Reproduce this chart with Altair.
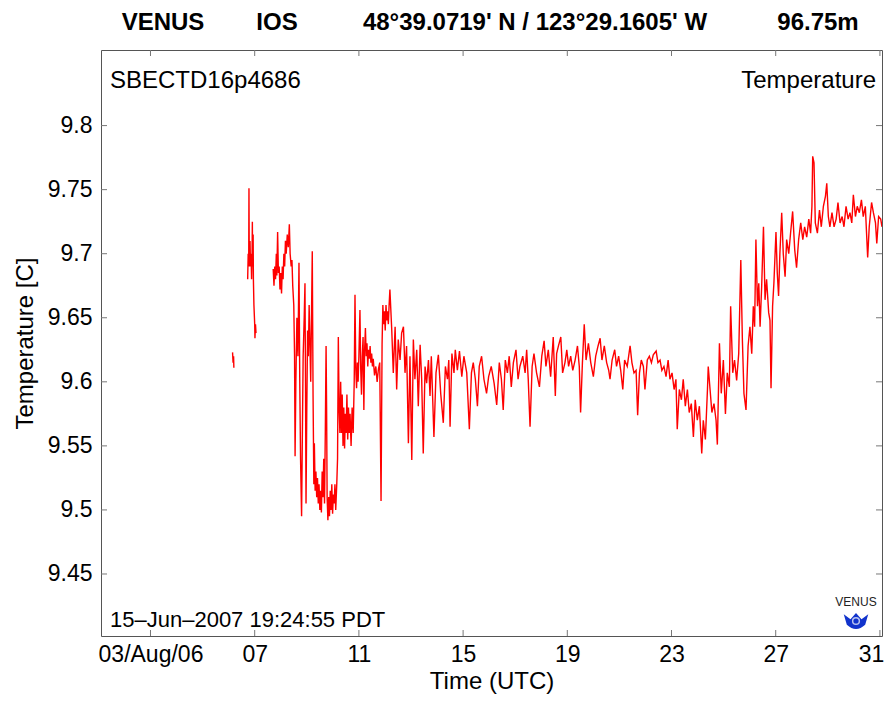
import altair as alt
import pandas as pd

# ---------------- data (day of August 2006, UTC ; temperature in C) ----------------
seg_a_day = [6.15, 6.17, 6.19, 6.20]
seg_a_temp = [9.623, 9.615, 9.620, 9.611]

seg_b_day = [6.73, 6.75, 6.77, 6.78, 6.79, 6.80, 6.82, 6.84, 6.86, 6.88, 6.90, 6.91,
             6.92, 6.94, 6.95, 6.97, 6.99, 7.00, 7.01, 7.03, 7.05]
seg_b_temp = [9.680, 9.700, 9.690, 9.751, 9.700, 9.690, 9.710, 9.690, 9.700, 9.680, 9.700, 9.725,
              9.690, 9.715, 9.680, 9.660, 9.650, 9.645, 9.634, 9.645, 9.638]

seg_c_day = [
    7.71, 7.74, 7.77, 7.80, 7.83, 7.85, 7.88, 7.91, 7.94, 7.97, 8.00, 8.03, 8.06, 8.09, 8.12, 8.15,
    8.18, 8.21, 8.25, 8.29, 8.33, 8.36, 8.40, 8.43, 8.46, 8.50, 8.53, 8.55, 8.58, 8.62, 8.66, 8.70,
    8.73, 8.76, 8.80, 8.83, 8.86, 8.90, 8.93, 8.95, 8.97, 9.00, 9.03, 9.06, 9.09, 9.12, 9.15, 9.18,
    9.21, 9.24, 9.27, 9.29, 9.32, 9.35, 9.38, 9.41, 9.44, 9.47, 9.50, 9.53, 9.56, 9.59, 9.62, 9.65,
    9.68, 9.71, 9.74, 9.76, 9.78, 9.81, 9.84, 9.87, 9.90, 9.93, 9.96, 9.99, 10.02, 10.05, 10.08,
    10.11, 10.15, 10.18, 10.21, 10.24, 10.27, 10.30, 10.33, 10.36, 10.39, 10.42, 10.45, 10.48,
    10.51, 10.54, 10.57, 10.60, 10.63, 10.66, 10.70, 10.74, 10.78, 10.82, 10.85, 10.88, 10.91,
    10.94, 10.97, 11.00, 11.04, 11.07, 11.10, 11.13, 11.16, 11.19, 11.22, 11.25, 11.28, 11.31,
    11.34, 11.37, 11.40, 11.43, 11.46, 11.49, 11.52, 11.55, 11.60, 11.65, 11.70, 11.75, 11.80,
    11.85, 11.89, 11.92, 11.95, 11.98, 12.01, 12.04, 12.07, 12.10, 12.13, 12.16,
    12.19, 12.26, 12.32, 12.39, 12.45, 12.51, 12.58, 12.64, 12.71, 12.77, 12.83, 12.90, 12.96,
    13.03, 13.09, 13.15, 13.22, 13.28, 13.35, 13.41, 13.47, 13.54, 13.60, 13.67, 13.73, 13.78,
    13.88, 13.96, 14.05, 14.14, 14.24, 14.32, 14.40, 14.45, 14.50, 14.57, 14.65, 14.70, 14.78,
    14.86, 14.95, 15.03, 15.14, 15.24, 15.32, 15.39, 15.47, 15.55, 15.62, 15.71, 15.80, 15.90,
    15.98, 16.08, 16.19, 16.29, 16.39, 16.47, 16.54, 16.62, 16.70, 16.77, 16.85, 16.93, 17.03,
    17.11, 17.18, 17.29, 17.38, 17.44, 17.50, 17.57, 17.65, 17.72, 17.82, 17.93, 18.02, 18.11,
    18.18, 18.27, 18.36, 18.46, 18.54, 18.59,
    18.66, 18.75, 18.82, 18.91, 18.98, 19.05, 19.13, 19.21, 19.30, 19.39, 19.46, 19.51, 19.58,
    19.65, 19.72, 19.81, 19.90, 20.00, 20.09, 20.18, 20.26, 20.33, 20.42, 20.51, 20.59, 20.64,
    20.72, 20.82, 20.89, 20.97, 21.05, 21.13, 21.20, 21.30, 21.41, 21.48, 21.56, 21.64, 21.70,
    21.77, 21.84, 21.92, 21.98, 22.07, 22.15, 22.23, 22.30, 22.41, 22.48, 22.56, 22.63, 22.71,
    22.79, 22.87, 22.94, 23.02, 23.10, 23.17, 23.22, 23.30, 23.38, 23.45, 23.53, 23.61, 23.68,
    23.76, 23.84, 23.91, 23.99, 24.07, 24.16, 24.22, 24.30, 24.38, 24.41, 24.48, 24.55, 24.63,
    24.71, 24.76, 24.84, 24.91, 24.99, 25.07, 25.14, 25.22, 25.27, 25.35, 25.42, 25.50, 25.58,
    25.66, 25.72, 25.78, 25.86, 25.94, 26.01, 26.08, 26.14, 26.19, 26.24, 26.30, 26.35, 26.40,
    26.46, 26.53, 26.59, 26.65, 26.73, 26.78, 26.82, 26.88, 26.93, 27.01, 27.06, 27.11, 27.16,
    27.23, 27.29, 27.36, 27.42, 27.50, 27.57, 27.65, 27.73, 27.80, 27.88, 27.96, 28.04, 28.11,
    28.19, 28.27, 28.34, 28.39, 28.42, 28.47, 28.52, 28.60, 28.68, 28.75, 28.83, 28.91, 28.96,
    29.02, 29.08, 29.16, 29.24, 29.32, 29.39, 29.47, 29.55, 29.62, 29.70, 29.78, 29.85, 29.92,
    29.98, 30.06, 30.13, 30.21, 30.29, 30.36, 30.44, 30.53, 30.59, 30.68, 30.75, 30.83, 30.88,
    30.95, 31.03, 31.08]

seg_c_temp = [
    9.688, 9.675, 9.690, 9.680, 9.700, 9.683, 9.717, 9.685, 9.690, 9.672, 9.685, 9.669, 9.690, 9.680, 9.700, 9.690,
    9.710, 9.700, 9.715, 9.705, 9.723, 9.700, 9.690, 9.695, 9.675, 9.660, 9.620, 9.542, 9.600, 9.650, 9.620, 9.693,
    9.600, 9.540, 9.495, 9.560, 9.620, 9.650, 9.677, 9.600, 9.505, 9.580, 9.640, 9.620, 9.660, 9.630, 9.600, 9.650,
    9.702, 9.590, 9.520, 9.552, 9.515, 9.530, 9.510, 9.525, 9.505, 9.520, 9.500, 9.515, 9.498, 9.530, 9.510, 9.540,
    9.505, 9.560, 9.628, 9.580, 9.510, 9.492, 9.510, 9.495, 9.515, 9.500, 9.520, 9.497, 9.512, 9.505, 9.520,
    9.500, 9.520, 9.540, 9.635, 9.580, 9.560, 9.600, 9.560, 9.590, 9.550, 9.580, 9.548, 9.575,
    9.560, 9.590, 9.555, 9.580, 9.560, 9.575, 9.550, 9.580, 9.560, 9.600, 9.668, 9.610, 9.595,
    9.615, 9.600, 9.620, 9.656, 9.610, 9.590, 9.620, 9.635, 9.578, 9.625, 9.642, 9.620, 9.630,
    9.612, 9.625, 9.618, 9.628, 9.615, 9.622, 9.612, 9.618, 9.605, 9.612, 9.600, 9.610, 9.615,
    9.507, 9.630, 9.660, 9.645, 9.655, 9.640, 9.660, 9.648, 9.655, 9.645, 9.660,
    9.672, 9.641, 9.607, 9.643, 9.594, 9.633, 9.617, 9.638, 9.643, 9.607, 9.628, 9.552, 9.620,
    9.539, 9.633, 9.602, 9.625, 9.581, 9.629, 9.602, 9.544, 9.612, 9.599, 9.617, 9.589, 9.620,
    9.557, 9.607, 9.621, 9.591, 9.568, 9.612, 9.602, 9.617, 9.565, 9.622, 9.607, 9.625, 9.609,
    9.624, 9.604, 9.620, 9.607, 9.563, 9.607, 9.615, 9.602, 9.581, 9.612, 9.620, 9.602, 9.591,
    9.604, 9.612, 9.599, 9.582, 9.615, 9.602, 9.578, 9.617, 9.607, 9.620, 9.596, 9.615, 9.625,
    9.602, 9.612, 9.620, 9.607, 9.625, 9.602, 9.565, 9.612, 9.622, 9.607, 9.596, 9.620, 9.632,
    9.612, 9.625, 9.604, 9.635, 9.589, 9.622,
    9.628, 9.635, 9.607, 9.615, 9.625, 9.612, 9.620, 9.609, 9.617, 9.628, 9.612, 9.576, 9.615,
    9.645, 9.617, 9.630, 9.615, 9.604, 9.620, 9.628, 9.634, 9.617, 9.628, 9.615, 9.609, 9.602,
    9.617, 9.625, 9.612, 9.620, 9.609, 9.594, 9.617, 9.612, 9.628, 9.615, 9.607, 9.609, 9.574,
    9.607, 9.617, 9.612, 9.594, 9.617, 9.620, 9.615, 9.621, 9.624, 9.615, 9.617, 9.609, 9.612,
    9.604, 9.617, 9.602, 9.607, 9.594, 9.602, 9.563, 9.594, 9.586, 9.602, 9.581, 9.594, 9.576,
    9.583, 9.557, 9.586, 9.570, 9.581, 9.544, 9.570, 9.555, 9.594, 9.612, 9.594, 9.576, 9.583,
    9.570, 9.551, 9.630, 9.591, 9.617, 9.575, 9.607, 9.596, 9.659, 9.607, 9.617, 9.601, 9.622,
    9.695, 9.633, 9.591, 9.578, 9.628, 9.643, 9.622, 9.659, 9.643, 9.711, 9.659, 9.677, 9.643,
    9.674, 9.721, 9.664, 9.680, 9.654, 9.648, 9.595, 9.659, 9.677, 9.717, 9.685, 9.667, 9.700,
    9.732, 9.700, 9.682, 9.711, 9.700, 9.716, 9.733, 9.703, 9.689, 9.711, 9.724, 9.711, 9.721,
    9.713, 9.727, 9.716, 9.737, 9.776, 9.771, 9.724, 9.716, 9.734, 9.721, 9.737, 9.745, 9.755,
    9.729, 9.721, 9.732, 9.721, 9.727, 9.740, 9.724, 9.729, 9.721, 9.737, 9.727, 9.732, 9.724,
    9.746, 9.729, 9.737, 9.732, 9.742, 9.729, 9.737, 9.697, 9.721, 9.740, 9.732, 9.724, 9.708,
    9.729, 9.727, 9.721]

x_ticks = [3, 7, 11, 15, 19, 23, 27, 31]
y_ticks = [9.45, 9.5, 9.55, 9.6, 9.65, 9.7, 9.75, 9.8]

header = ["VENUS", "IOS", "48°39.0719' N / 123°29.1605' W", "96.75m"]
header_x = [163, 277, 535, 818]

df = pd.concat([
    pd.DataFrame({"day": seg_a_day, "temp": seg_a_temp, "seg": "a"}),
    pd.DataFrame({"day": seg_b_day, "temp": seg_b_temp, "seg": "b"}),
    pd.DataFrame({"day": seg_c_day, "temp": seg_c_temp, "seg": "c"}),
], ignore_index=True)

W, H = 781, 586
LEFT, TOP = 93, 42
FONT = "Liberation Sans"

x_scale = alt.Scale(domain=[1.1, 31.08], nice=False, zero=False)
y_scale = alt.Scale(domain=[9.4016, 9.859], nice=False, zero=False)

x_axis = alt.Axis(values=x_ticks, title="Time (UTC)",
                  labelExpr="datum.value == 3 ? '03/Aug/06' : format(datum.value, '02d')",
                  labelAlign={"condition": {"test": "datum.value == 31", "value": "right"}, "value": "center"},
                  labelOffset={"condition": {"test": "datum.value == 31", "value": 4}, "value": 0},
                  domain=False, ticks=False, tickSize=0, grid=False,
                  labelFont=FONT, labelFontSize=23, labelColor="#000",
                  labelPadding=7, titleFont=FONT, titleFontSize=24,
                  titleFontWeight="normal", titleColor="#000", titlePadding=3)
y_axis = alt.Axis(values=y_ticks, format="~g", title="Temperature [C]",
                  domain=False, ticks=False, tickSize=0, grid=False,
                  labelFont=FONT, labelFontSize=23, labelColor="#000",
                  labelPadding=9, titleFont=FONT, titleFontSize=24,
                  titleFontWeight="normal", titleColor="#000", titlePadding=10)

line = alt.Chart(df).mark_line(color="#ff0000", strokeWidth=1.4, clip=True).encode(
    x=alt.X("day:Q", scale=x_scale, axis=x_axis),
    y=alt.Y("temp:Q", scale=y_scale, axis=y_axis),
    detail="seg:N",
)

xt = pd.DataFrame({"day": x_ticks})
yt = pd.DataFrame({"temp": y_ticks})
tick_col = "#777777"
bottom_ticks = alt.Chart(xt).mark_rule(color=tick_col).encode(
    x=alt.X("day:Q", scale=x_scale, axis=x_axis), y=alt.value(H), y2=alt.value(H - 6))
top_ticks = alt.Chart(xt).mark_rule(color=tick_col).encode(
    x=alt.X("day:Q", scale=x_scale, axis=x_axis), y=alt.value(0), y2=alt.value(6))
left_ticks = alt.Chart(yt).mark_rule(color=tick_col).encode(
    y=alt.Y("temp:Q", scale=y_scale, axis=y_axis), x=alt.value(0), x2=alt.value(6))
right_ticks = alt.Chart(yt).mark_rule(color=tick_col).encode(
    y=alt.Y("temp:Q", scale=y_scale, axis=y_axis), x=alt.value(W), x2=alt.value(W - 6))


def label(text, x, y, size=22, align="left", weight="normal", color="#000", baseline="alphabetic"):
    return alt.Chart(pd.DataFrame({"t": [text]})).mark_text(
        font=FONT, fontSize=size, align=align, fontWeight=weight, color=color, baseline=baseline
    ).encode(text="t:N", x=alt.value(x), y=alt.value(y))


texts = [label(t, hx - 8 - LEFT, 30 - 8 - TOP, size=24, align="center", weight="bold")
         for t, hx in zip(header, header_x)]
texts += [
    label("SBECTD16p4686", 9, 38, size=24),
    label("Temperature", W - 6, 38, size=24, align="right"),
    label("15–Jun–2007 19:24:55 PDT", 9, 577),
    label("VENUS", W - 26, H - 30, size=12, align="center", color="#222"),
]

logo = alt.Chart(pd.DataFrame({"k": [1]})).mark_point(
    shape="M -1 -0.55 L -0.45 -0.15 L 0 -0.65 L 0.45 -0.15 L 1 -0.55 L 0.75 0.3 Q 0 1.0 -0.75 0.3 Z",
    filled=True, color="#1133cc", size=600, opacity=1
).encode(x=alt.value(W - 26), y=alt.value(H - 15))
logo_eye = alt.Chart(pd.DataFrame({"k": [1]})).mark_point(
    shape="circle", filled=False, color="#ffffff", size=45, strokeWidth=1.5
).encode(x=alt.value(W - 26), y=alt.value(H - 15))

chart = alt.layer(line, bottom_ticks, top_ticks, left_ticks, right_ticks, logo, logo_eye, *texts).properties(
    width=W, height=H,
    autosize=alt.AutoSizeParams(type="none"),
    padding={"left": LEFT, "top": TOP, "right": 3, "bottom": 58},
    background="white",
).configure_view(stroke="#555555", strokeWidth=1)

chart.save("out.html", embed_options={"renderer": "svg", "actions": False})
